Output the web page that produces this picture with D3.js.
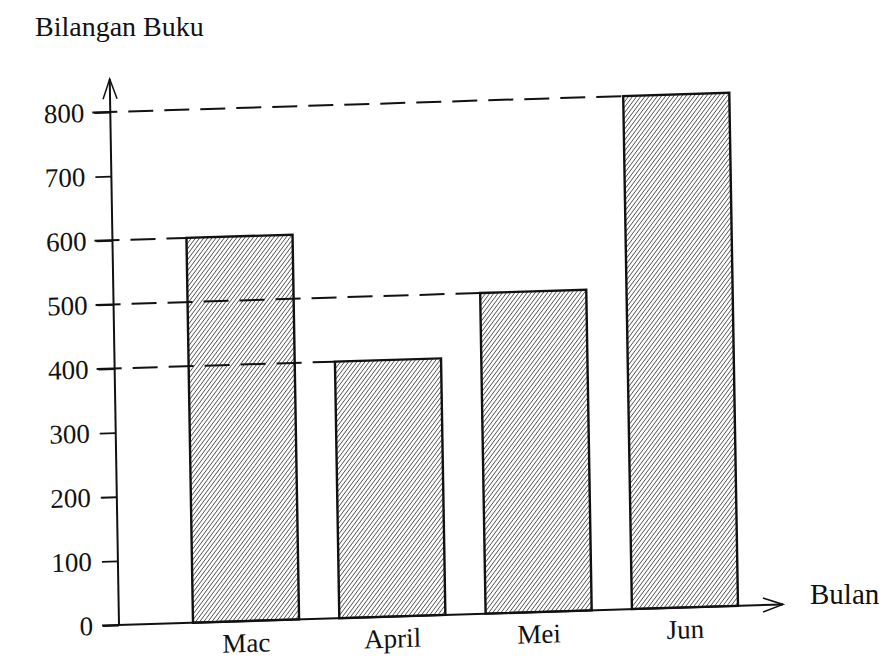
<!DOCTYPE html>
<html>
<head>
<meta charset="utf-8">
<title>Bilangan Buku</title>
<script src="https://cdn.jsdelivr.net/npm/d3@7"></script>
<style>
  body { margin:0; background:#fff; }
  svg { display:block; }
  text { font-family:"Liberation Serif","DejaVu Serif",serif; fill:#111; }
</style>
</head>
<body>
<script>
// data
var months = ["Mac", "April", "Mei", "Jun"];
var books  = [600, 400, 500, 800];
var yTicks = [0, 100, 200, 300, 400, 500, 600, 700, 800];

var W = 895, H = 662;

var svg = d3.select("body").append("svg")
    .attr("width", W)
    .attr("height", H);

// hatch fill
var defs = svg.append("defs");
defs.append("pattern")
    .attr("id", "hatch")
    .attr("patternUnits", "userSpaceOnUse")
    .attr("width", 3.3).attr("height", 3.3)
    .attr("patternTransform", "rotate(38)")
  .append("line")
    .attr("x1", 0).attr("y1", 0).attr("x2", 0).attr("y2", 3.3)
    .attr("stroke", "#1a1a1a").attr("stroke-width", 1.25);

// scanned page is a little tilted, so the plot sits in a skewed group
var g = svg.append("g")
    .attr("transform", "matrix(1,-0.031,0.017,1,119,625)");

var x = d3.scaleBand()
    .domain(months)
    .range([74, 619])
    .paddingInner(0.275)
    .paddingOuter(0);

var y = d3.scaleLinear()
    .domain([0, 800])
    .range([0, -513]);

var rows = months.map(function (m, i) { return {m: m, v: books[i]}; });

// bars
g.selectAll(".bar")
    .data(rows)
    .enter().append("rect")
    .attr("class", "bar")
    .attr("x", function (d) { return x(d.m); })
    .attr("y", function (d) { return y(d.v); })
    .attr("width", x.bandwidth())
    .attr("height", function (d) { return -y(d.v); })
    .attr("fill", "url(#hatch)")
    .attr("stroke", "#111")
    .attr("stroke-width", 2.4);

// dashed guide lines (drawn over the bars)
g.selectAll(".guide")
    .data(rows)
    .enter().append("line")
    .attr("class", "guide")
    .attr("x1", -18)
    .attr("x2", function (d) { return x(d.m); })
    .attr("y1", function (d) { return y(d.v); })
    .attr("y2", function (d) { return y(d.v); })
    .attr("stroke", "#111")
    .attr("stroke-width", 2)
    .attr("stroke-dasharray", "25 11");

// y axis ticks + labels
var yAxis = d3.axisLeft(y)
    .tickValues(yTicks)
    .tickSize(16)
    .tickPadding(10)
    .tickFormat(d3.format("d"));

var ya = g.append("g").call(yAxis);
ya.select(".domain").remove();
ya.selectAll("line").attr("stroke", "#111").attr("stroke-width", 1.8);
ya.selectAll("text")
    .attr("font-size", 27)
    .attr("fill", "#111")
    .style("font-family", "Liberation Serif, serif");

// axes with arrows
g.append("line")
    .attr("x1", 0).attr("y1", 0).attr("x2", 0).attr("y2", -546)
    .attr("stroke", "#111").attr("stroke-width", 2);
g.append("path")
    .attr("d", "M-7,-526 L0,-546 L7,-526")
    .attr("fill", "none").attr("stroke", "#111").attr("stroke-width", 1.5);

g.append("line")
    .attr("x1", -17).attr("y1", 0).attr("x2", 664).attr("y2", 0)
    .attr("stroke", "#111").attr("stroke-width", 2);
g.append("path")
    .attr("d", "M644,-7 L664,0 L644,7")
    .attr("fill", "none").attr("stroke", "#111").attr("stroke-width", 1.5);

// month labels
g.selectAll(".mlabel")
    .data(months)
    .enter().append("text")
    .attr("class", "mlabel")
    .attr("x", function (d) { return x(d) + x.bandwidth() / 2; })
    .attr("y", 31)
    .attr("text-anchor", "middle")
    .attr("font-size", 27)
    .text(function (d) { return d; });

// axis titles
svg.append("text")
    .attr("x", 35).attr("y", 36)
    .attr("font-size", 28)
    .text("Bilangan Buku");

svg.append("text")
    .attr("x", 810).attr("y", 604)
    .attr("font-size", 29)
    .text("Bulan");
</script>
</body>
</html>
